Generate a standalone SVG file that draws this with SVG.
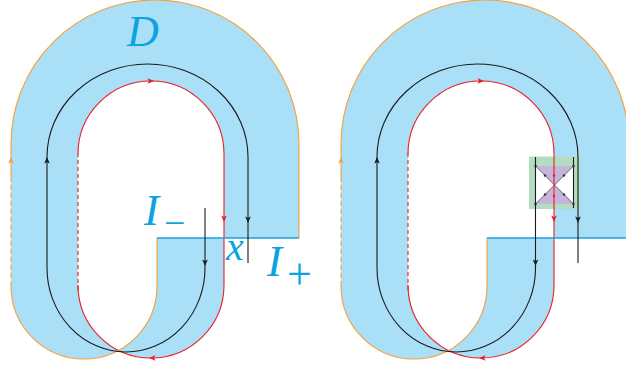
<svg xmlns="http://www.w3.org/2000/svg" xmlns:xlink="http://www.w3.org/1999/xlink" width="626" height="369" viewBox="0 0 626 369">
<style>
.band{fill:#aadff8;stroke:none}
.or{fill:none;stroke:#f5a03c;stroke-width:1.1}
.ord{fill:none;stroke:#f5a03c;stroke-width:1.1;stroke-dasharray:5 3}
.rd{fill:none;stroke:#ec1c24;stroke-width:1.1}
.rdd{fill:none;stroke:#ec1c24;stroke-width:1.1;stroke-dasharray:4 3}
.bk{fill:none;stroke:#1a1a1a;stroke-width:1.1}
.cut{fill:none;stroke:#1ca0dc;stroke-width:1.3}
.lab{font-family:"Liberation Serif","DejaVu Serif",serif;font-style:italic;fill:#0ca3e0}
.sub{font-family:"Liberation Serif","DejaVu Serif",serif;font-style:normal;fill:#0ca3e0}
</style>
<defs>
<path id="ah" d="M0,0 L-6.5,-2.8 L-5,0 L-6.5,2.8 Z"/>
<path id="blue" d="M157,238 L157,286 A73,73 0 0 1 11,286 L11,144 A144,144 0 0 1 299,144 L299,238 L224,238 L224,154 A73,73 0 0 0 78,154 L78,285 A73,73 0 0 0 224,285 L224,238 Z"/>
<g id="edges">
<path class="rd" d="M78,154 A73,73 0 0 1 224,154 L224,285 A73,73 0 0 1 78,285"/>
<path class="rdd" d="M78,290 L78,152"/>
<path class="or" d="M157,238 L157,286 A73,73 0 0 1 11,286"/>
<path class="ord" d="M11,286 L11,177"/>
<path class="or" d="M11,177 L11,144 A144,144 0 0 1 299,144 L299,238"/>
<path class="cut" d="M157,238 L299,238"/>
<use xlink:href="#ah" fill="#ec1c24" transform="translate(154,81)"/>
<use xlink:href="#ah" fill="#ec1c24" transform="translate(224,222) rotate(90)"/>
<use xlink:href="#ah" fill="#ec1c24" transform="translate(149,358) rotate(180)"/>
<use xlink:href="#ah" fill="#f5a03c" transform="translate(11,157) rotate(-90)"/>
</g>
</defs>

<g id="fig-left">
<use xlink:href="#blue" class="band"/>
<use xlink:href="#edges"/>
<g id="left-curve">
<path class="bk" d="M205,208 L205,268 A79,84 0 0 1 47,268 L47,157 A100.5,93 0 0 1 248,157 L248,263"/>
<use xlink:href="#ah" fill="#1a1a1a" transform="translate(47,157) rotate(-90)"/>
<use xlink:href="#ah" fill="#1a1a1a" transform="translate(248,223) rotate(90)"/>
<use xlink:href="#ah" fill="#1a1a1a" transform="translate(205,266) rotate(90)"/>
</g>
<g id="labels">
<text class="lab" x="127" y="46" font-size="44">D</text>
<text class="lab" x="144" y="225" font-size="45">I</text>
<text class="sub" x="164" y="236" font-size="38">−</text>
<text class="lab" x="226" y="260" font-size="40">x</text>
<text class="lab" x="267" y="276" font-size="45">I</text>
<text class="sub" x="287" y="289" font-size="44">+</text>
</g>
</g>

<g id="fig-right" transform="translate(330,0)">
<use xlink:href="#blue" class="band"/>
<g id="box">
<rect x="199" y="156.5" width="51" height="52.5" fill="#b4dcc2"/>
<rect x="205.5" y="166" width="38" height="38" fill="#ffffff"/>
<path d="M205.5,166 L243.5,166 L224.5,185 Z M205.5,204 L243.5,204 L224.5,185 Z" fill="#c6b5db"/>
<path d="M205.5,166 L243.5,204 M243.5,166 L205.5,204" stroke="#333" stroke-width="0.7" fill="none"/>
<path class="bk" d="M243.5,157 L243.5,208"/>
<g fill="#333">
<circle cx="215" cy="175.5" r="1.2"/><circle cx="234" cy="175.5" r="1.2"/>
<circle cx="215" cy="194.5" r="1.2"/><circle cx="234" cy="194.5" r="1.2"/>
<circle cx="205.5" cy="166" r="1.2"/><circle cx="243.5" cy="166" r="1.2"/>
<circle cx="205.5" cy="204" r="1.2"/><circle cx="243.5" cy="204" r="1.2"/>
</g>
</g>
<use xlink:href="#edges"/>
<g fill="#ec1c24"><circle cx="224" cy="175.5" r="1.2"/><circle cx="224" cy="196" r="1.2"/></g>
<g id="right-curve">
<path class="bk" d="M205.5,157 L205.5,268 A79.25,84 0 0 1 47,268 L47,157 A100.5,93 0 0 1 248,157 L248,263"/>
<use xlink:href="#ah" fill="#1a1a1a" transform="translate(47,157) rotate(-90)"/>
<use xlink:href="#ah" fill="#1a1a1a" transform="translate(248,223) rotate(90)"/>
<use xlink:href="#ah" fill="#1a1a1a" transform="translate(205.5,266) rotate(90)"/>
</g>
</g>
</svg>
